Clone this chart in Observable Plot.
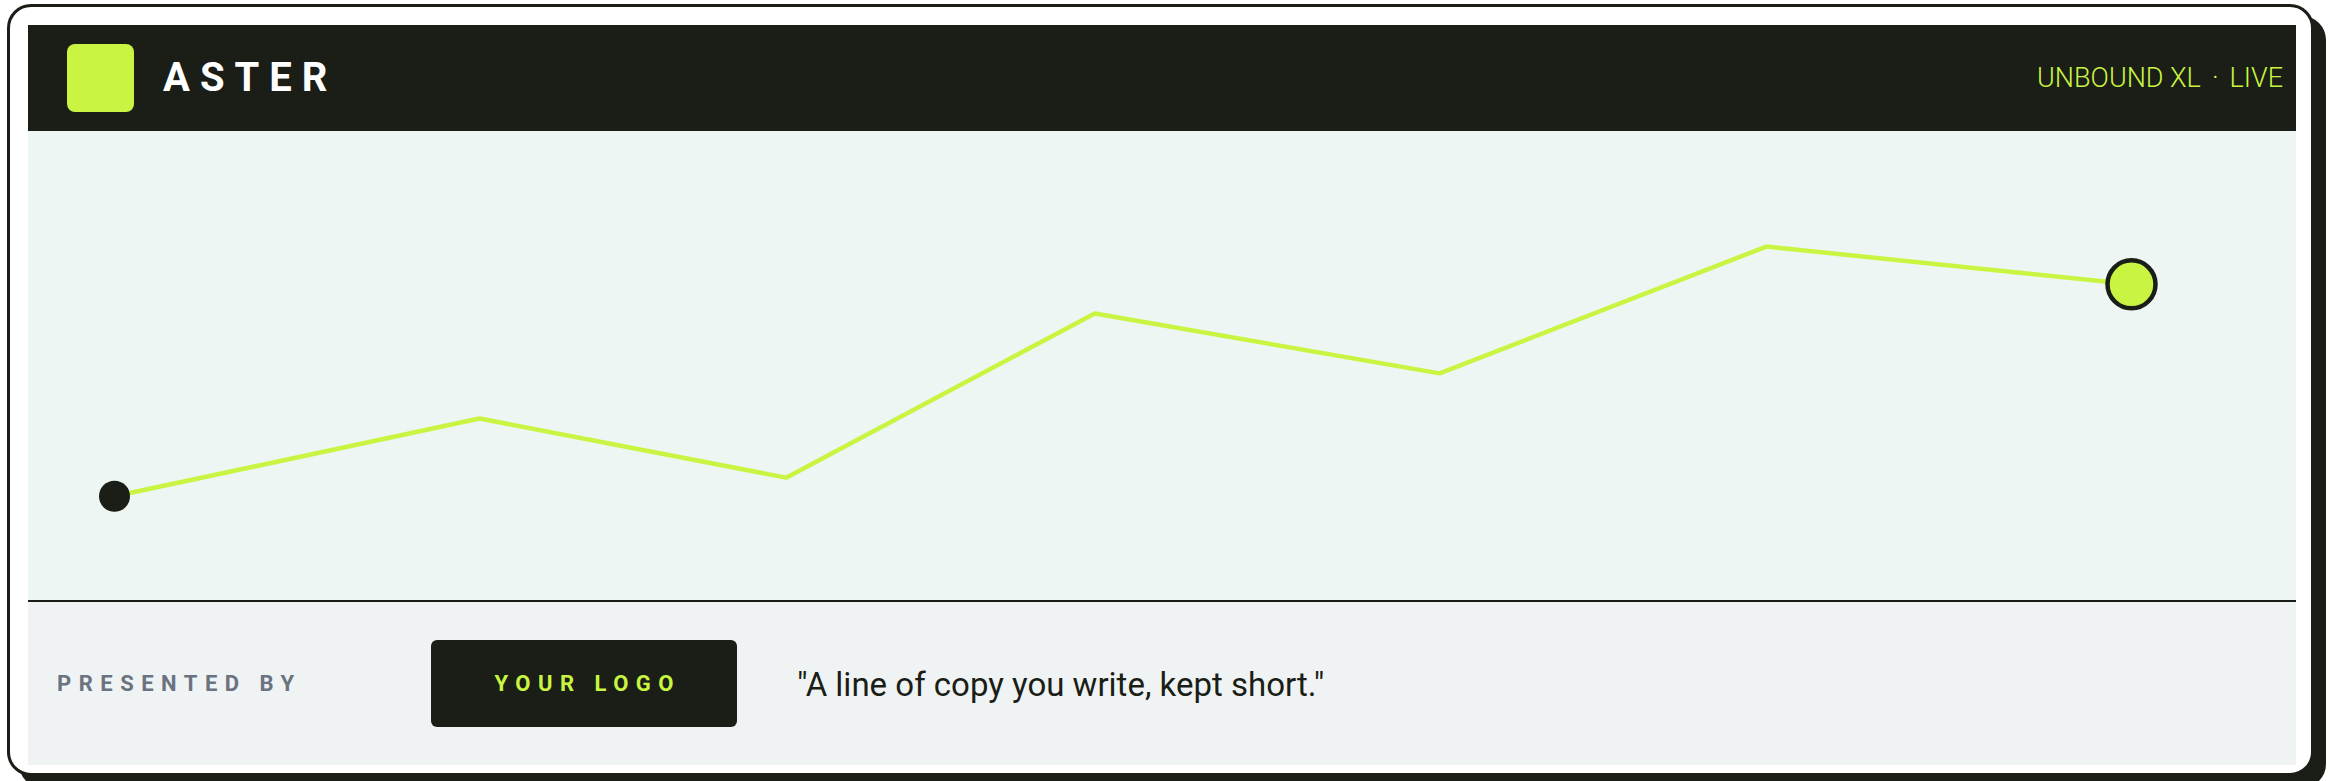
<!DOCTYPE html>
<html>
<head>
<meta charset="utf-8">
<script src="https://cdn.jsdelivr.net/npm/d3@7"></script>
<script src="https://cdn.jsdelivr.net/npm/@observablehq/plot@0.6"></script>
<style>
  html, body { margin: 0; padding: 0; background: #ffffff; width: 2336px; height: 781px; overflow: hidden;
    font-family: Roboto, "Noto Sans", "DejaVu Sans", sans-serif; }
  #card { position: absolute; left: 7px; top: 4px; width: 2307px; height: 772px; box-sizing: border-box;
    border: 3px solid #1a1e16; border-radius: 24px; background: #ffffff; box-shadow: 12px 12px 0 #1a1e16; }
  #header { position: absolute; left: 28px; top: 25px; width: 2268px; height: 106px; background: #1a1e16;
    display: flex; align-items: center; }
  #mark { width: 67px; height: 68px; margin-left: 39px; border-radius: 8px; background: #c9f542; flex: none; }
  #brand { margin-left: 29px; color: #ffffff; font-weight: 700; font-size: 40px; letter-spacing: 10px; line-height: 1; }
  #tag { margin-left: auto; margin-right: 13px; color: #c9f542; font-weight: 300; font-size: 27px; line-height: 1; }
  #tag .sep { margin: 0 11px; }
  #chart { position: absolute; left: 28px; top: 131px; width: 2268px; height: 469px; background: #edf6f2; }
  #rule { position: absolute; left: 28px; top: 600px; width: 2268px; height: 2px; background: #1a1e16; }
  #footer { position: absolute; left: 28px; top: 602px; width: 2268px; height: 163px; background: #eff3f4; }
  #presented { position: absolute; left: 29px; top: 50%; transform: translateY(-50%); color: #6b7280;
    font-weight: 700; font-size: 22px; letter-spacing: 7.5px; line-height: 1; white-space: nowrap; }
  #logo { position: absolute; left: 403px; top: 38px; width: 306px; height: 87px; background: #1a1e16; border-radius: 6px;
    display: flex; align-items: center; justify-content: center; }
  #logo span { color: #c9f542; font-weight: 700; font-size: 22px; letter-spacing: 7.5px; padding-left: 7.5px; line-height: 1; white-space: nowrap; }
  #quote { position: absolute; left: 769px; top: 50%; transform: translateY(-50%); color: #1a1e16;
    font-size: 33px; font-weight: 400; line-height: 1; white-space: nowrap; }
</style>
</head>
<body>
<div id="card"></div>
<div id="header">
  <div id="mark"></div>
  <div id="brand"></div>
  <div id="tag"></div>
</div>
<div id="chart"></div>
<div id="rule"></div>
<div id="footer">
  <div id="presented"></div>
  <div id="logo"><span></span></div>
  <div id="quote"></div>
</div>
<script>
  // ---- data ----
  const steps = [0, 18.1, 33.3, 48.6, 65.7, 81.9, 100];
  const values = [16.5, 36.5, 21.3, 63.5, 48.1, 80.7, 71.0];
  const brandName = "ASTER";
  const tagParts = ["UNBOUND XL", "·", "LIVE"];
  const presentedLabel = "PRESENTED BY";
  const logoLabel = "YOUR LOGO";
  const quoteText = "\"A line of copy you write, kept short.\"";

  const dark = "#1a1e16";
  const lime = "#c9f542";

  document.getElementById("brand").textContent = brandName;
  const tag = document.getElementById("tag");
  tag.append(tagParts[0]);
  const sep = document.createElement("span"); sep.className = "sep"; sep.textContent = tagParts[1];
  tag.append(sep);
  tag.append(tagParts[2]);
  document.getElementById("presented").textContent = presentedLabel;
  document.querySelector("#logo span").textContent = logoLabel;
  document.getElementById("quote").textContent = quoteText;

  const data = steps.map((t, i) => ({t, v: values[i]}));

  const chart = Plot.plot({
    width: 2268,
    height: 469,
    marginLeft: 86,
    marginRight: 165,
    marginTop: 40,
    marginBottom: 40,
    x: {domain: [0, 100], axis: null},
    y: {domain: [0, 100], axis: null},
    style: {background: "transparent", overflow: "visible", display: "block"},
    marks: [
      Plot.line(data, {x: "t", y: "v", stroke: lime, strokeWidth: 4.5, strokeLinejoin: "miter", strokeLinecap: "butt"}),
      Plot.dot([data[0]], {x: "t", y: "v", r: 15.5, fill: dark}),
      Plot.dot([data[data.length - 1]], {x: "t", y: "v", r: 24, fill: lime, stroke: dark, strokeWidth: 4.5})
    ]
  });
  document.getElementById("chart").append(chart);
</script>
</body>
</html>
